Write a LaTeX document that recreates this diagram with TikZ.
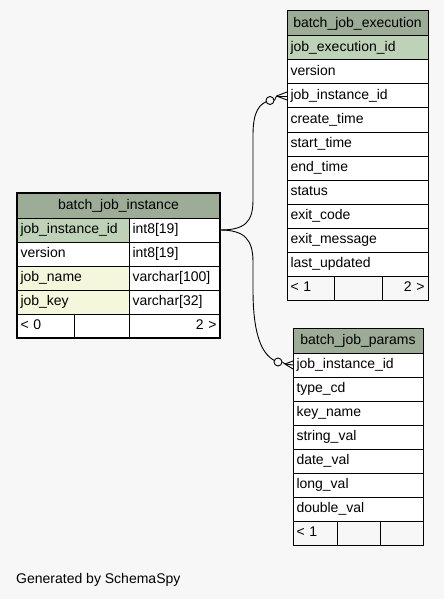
\documentclass[tikz,border=0pt]{standalone}
\usepackage{fontspec}
\setmainfont{Liberation Sans}
\usetikzlibrary{calc}
\definecolor{bg}{HTML}{F7F7F7}
\definecolor{hdr}{HTML}{9CAC97}
\definecolor{pk}{HTML}{BED2B8}
\definecolor{idx}{HTML}{F5F7DC}
\begin{document}
\begin{tikzpicture}[x=1pt,y=-1pt,
  cell/.style={draw=black, line width=1pt, anchor=north west, outer sep=0pt,
    minimum height=24pt, inner xsep=3.5pt, inner ysep=0pt, text height=10pt, text depth=2.5pt,
    align=left, fill=white, font=\fontsize{14}{16}\selectfont},
  head/.style={cell, fill=hdr, align=center, minimum height=25pt},
  foot/.style={cell, fill=bg},
  conn/.style={draw=black, line width=0.9pt},
  ring/.style={circle, draw=black, fill=bg, line width=0.9pt, minimum size=8pt, inner sep=0pt},
  lbl/.style={font=\fontsize{14}{16}\selectfont, inner sep=0pt}]
\fill[bg] (0,0) rectangle (444,599);
\useasboundingbox (0,0) rectangle (444,599);

% batch_job_instance
\node[head, text width=196pt] (ih) at (17,193) {batch\_job\_instance};
\node[cell, fill=pk, text width=105pt] (i1a) at (17,218) {job\_instance\_id};
\node[cell, text width=84pt] (i1b) at (129,218) {int8[19]};
\node[cell, text width=105pt] (i2a) at (17,242) {version};
\node[cell, text width=84pt] (i2b) at (129,242) {int8[19]};
\node[cell, fill=idx, text width=105pt] (i3a) at (17,266) {job\_name};
\node[cell, text width=84pt] (i3b) at (129,266) {varchar[100]};
\node[cell, fill=idx, text width=105pt] (i4a) at (17,290) {job\_key};
\node[cell, text width=84pt] (i4b) at (129,290) {varchar[32]};
\node[cell, text width=50pt] (i5a) at (17,314) {< 0};
\node[cell, text width=48pt] (i5b) at (74,314) {};
\node[cell, text width=84pt, align=right] (i5c) at (129,314) {2 >};
\draw[line width=2.6pt] (ih.north west) rectangle (i5c.south east);

% batch_job_execution
\node[head, text width=134pt] (eh) at (287,11) {batch\_job\_execution};
\node[cell, fill=pk, text width=134pt] (e1) at (287,36) {job\_execution\_id};
\node[cell, text width=134pt] (e2) at (287,60) {version};
\node[cell, text width=134pt] (e3) at (287,84) {job\_instance\_id};
\node[cell, text width=134pt] (e4) at (287,108) {create\_time};
\node[cell, text width=134pt] (e5) at (287,132) {start\_time};
\node[cell, text width=134pt] (e6) at (287,156) {end\_time};
\node[cell, text width=134pt] (e7) at (287,180) {status};
\node[cell, text width=134pt] (e8) at (287,204) {exit\_code};
\node[cell, text width=134pt] (e9) at (287,228) {exit\_message};
\node[cell, text width=134pt] (e10) at (287,252) {last\_updated};
\node[foot, text width=40pt] (e11a) at (287,276) {< 1};
\node[foot, text width=41pt] (e11b) at (334,276) {};
\node[foot, text width=39pt, align=right] (e11c) at (382,276) {2 >};

% batch_job_params
\node[head, text width=123pt] (ph) at (293,328) {batch\_job\_params};
\node[cell, text width=123pt] (p1) at (293,353) {job\_instance\_id};
\node[cell, text width=123pt] (p2) at (293,377) {type\_cd};
\node[cell, text width=123pt] (p3) at (293,401) {key\_name};
\node[cell, text width=123pt] (p4) at (293,425) {string\_val};
\node[cell, text width=123pt] (p5) at (293,449) {date\_val};
\node[cell, text width=123pt] (p6) at (293,473) {long\_val};
\node[cell, text width=123pt] (p7) at (293,497) {double\_val};
\node[foot, text width=37pt] (p8a) at (293,521) {< 1};
\node[foot, text width=36pt] (p8b) at (337,521) {};
\node[foot, text width=36pt] (p8c) at (380,521) {};

% connector to batch_job_execution
\draw[conn] (i1b.east) .. controls (245,230) and (253,222) .. (253,200) -- (253,135)
  .. controls (253,112) and (259,103) .. (270,100.5);
\node[ring] (r1) at (270,100.5) {};
\coordinate (a1) at (276.5,96);
\draw[conn] (r1.east) -- (a1);
\draw[conn] (a1) -- (e3.west);
\draw[conn] (a1) -- ($(e3.west)+(0,-4)$);
\draw[conn] (a1) -- ($(e3.west)+(0,4)$);

% connector to batch_job_params
\draw[conn] (i1b.east) .. controls (245,230) and (253,240) .. (253,262) -- (253,290)
  .. controls (253,335) and (262,357) .. (278,362);
\node[ring] (r2) at (278,362) {};
\coordinate (a2) at (285,364);
\draw[conn] (r2.east) -- (a2);
\draw[conn] (a2) -- (p1.west);
\draw[conn] (a2) -- ($(p1.west)+(0,-4)$);
\draw[conn] (a2) -- ($(p1.west)+(0,4)$);

\node[lbl, anchor=base west] (gen) at (16,583) {Generated by SchemaSpy};
\end{tikzpicture}
\end{document}
